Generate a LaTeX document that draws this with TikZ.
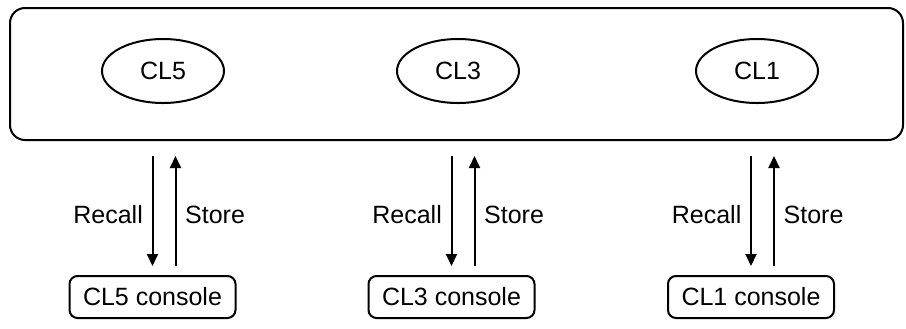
\documentclass[tikz,border=0pt]{standalone}
\usepackage{fontspec}
\setmainfont{Liberation Sans}
\usepackage{tikz}
\usetikzlibrary{arrows.meta,positioning,shapes.geometric}

\begin{document}
\begin{tikzpicture}[x=0.5pt,y=-0.5pt,font=\fontsize{12.5}{15}\selectfont,line width=1pt,
  clbox/.style={draw,ellipse,minimum width=61pt,minimum height=32pt,inner sep=0pt},
  consolebox/.style={draw,rounded corners=4pt,minimum width=83pt,minimum height=21pt,inner sep=0pt},
  flow/.style={-{Triangle[length=6pt,width=5.5pt]},shorten <=7.5pt,shorten >=4.5pt}]
\useasboundingbox (0,0) rectangle (906,328);
\node[draw,rounded corners=7.5pt,minimum width=446.5pt,minimum height=66pt] (main) at (456.5,74) {};
\node[clbox] (cl5) at (163,71) {CL5};
\node[clbox] (cl3) at (458,71) {CL3};
\node[clbox] (cl1) at (757,71) {CL1};
\node[consolebox] (con5) at (152.5,297) {CL5 console};
\node[consolebox] (con3) at (451.5,297) {CL3 console};
\node[consolebox] (con1) at (751,297) {CL1 console};
\foreach \n in {5,3,1}{
  \draw[flow] (main.south -| con\n.north) -- node[pos=0.55,left=1pt] {Recall} (con\n.north);
  \draw[flow,shorten <=4.5pt,shorten >=7.5pt] ([xshift=11.5pt]con\n.north) -- node[pos=0.45,right=1pt] {Store} ([xshift=11.5pt]main.south -| con\n.north);
}
\end{tikzpicture}
\end{document}
